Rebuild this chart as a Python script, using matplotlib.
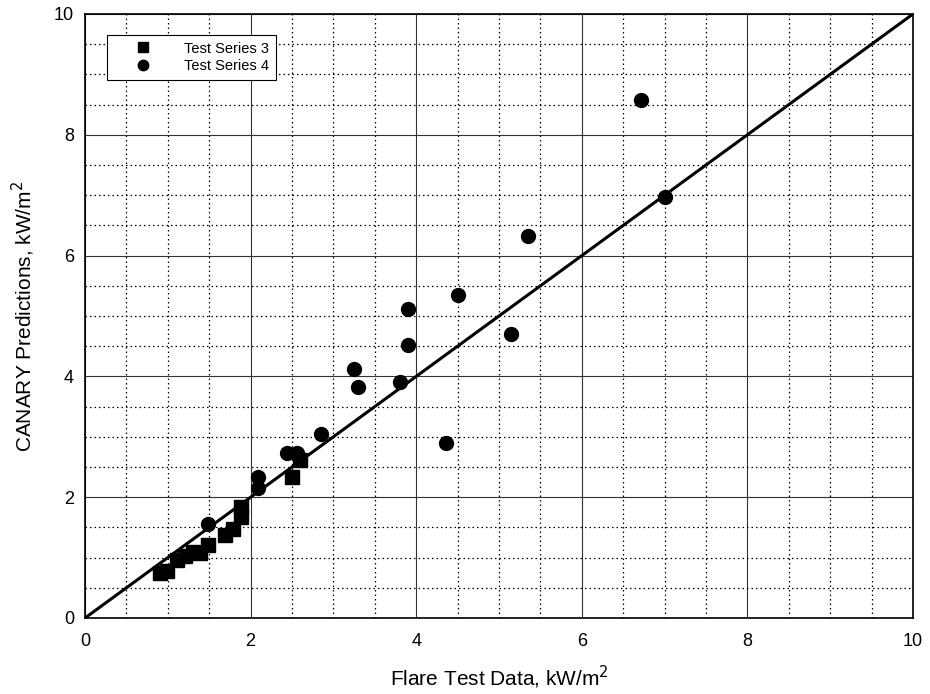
import matplotlib
matplotlib.use("Agg")
import matplotlib.pyplot as plt
from matplotlib.ticker import MultipleLocator

plt.rcParams['font.family'] = ['Liberation Sans', 'DejaVu Sans']

s3_x = [0.91, 0.99, 1.11, 1.21, 1.31, 1.39, 1.49, 1.69, 1.79, 1.89, 1.89, 2.50, 2.60]
s3_y = [0.74, 0.77, 0.96, 1.02, 1.10, 1.07, 1.21, 1.37, 1.48, 1.68, 1.84, 2.33, 2.62]

s4_x = [1.49, 2.09, 2.09, 2.44, 2.56, 2.85, 3.25, 3.30, 3.80, 3.90, 3.90, 4.36, 4.51, 5.15, 5.35, 6.71, 7.01]
s4_y = [1.56, 2.15, 2.33, 2.73, 2.73, 3.04, 4.13, 3.83, 3.91, 4.52, 5.12, 2.89, 5.34, 4.70, 6.33, 8.58, 6.97]

line_x = [0, 10]
line_y = [0, 10]

fig = plt.figure(figsize=(9.3, 6.94), dpi=100)
ax = fig.add_axes([85/930, 1-618/694, (913-85)/930, (618-14)/694])

ax.set_xlim(0, 10)
ax.set_ylim(0, 10)
ax.xaxis.set_major_locator(MultipleLocator(2))
ax.yaxis.set_major_locator(MultipleLocator(2))
ax.xaxis.set_minor_locator(MultipleLocator(0.5))
ax.yaxis.set_minor_locator(MultipleLocator(0.5))
ax.grid(which='major', color='#333333', linestyle='-', linewidth=0.8)
ax.grid(which='minor', color='black', linestyle=(0, (1.2, 2.4)), linewidth=0.9)
ax.set_axisbelow(True)
ax.tick_params(which='both', length=0, labelsize=13)
ax.tick_params(axis='x', pad=11)
ax.tick_params(axis='y', pad=8)

ax.plot(line_x, line_y, color='black', linewidth=2.2, zorder=3)
ax.plot(s3_x, s3_y, linestyle='none', marker='s', markersize=9.5, color='black',
        label='Test Series 3', zorder=4)
ax.plot(s4_x, s4_y, linestyle='none', marker='o', markersize=10, color='black',
        label='Test Series 4', zorder=4)

for sp in ax.spines.values():
    sp.set_linewidth(1.2)
    sp.set_color('black')

leg = ax.legend(loc='upper left', bbox_to_anchor=(22/828, 1-21/604), fontsize=10.5,
                frameon=True, fancybox=False, edgecolor='black', framealpha=1,
                markerscale=0.75, handletextpad=0.85, borderpad=0.45, labelspacing=0.25,
                borderaxespad=0, handlelength=4.0)
leg.get_frame().set_linewidth(0.8)

ax.set_xlabel('Flare Test Data, kW/m$^2$', fontsize=15, labelpad=10)
ax.set_ylabel('CANARY Predictions, kW/m$^2$', fontsize=15, labelpad=12)

fig.savefig('out.png', dpi=100)
